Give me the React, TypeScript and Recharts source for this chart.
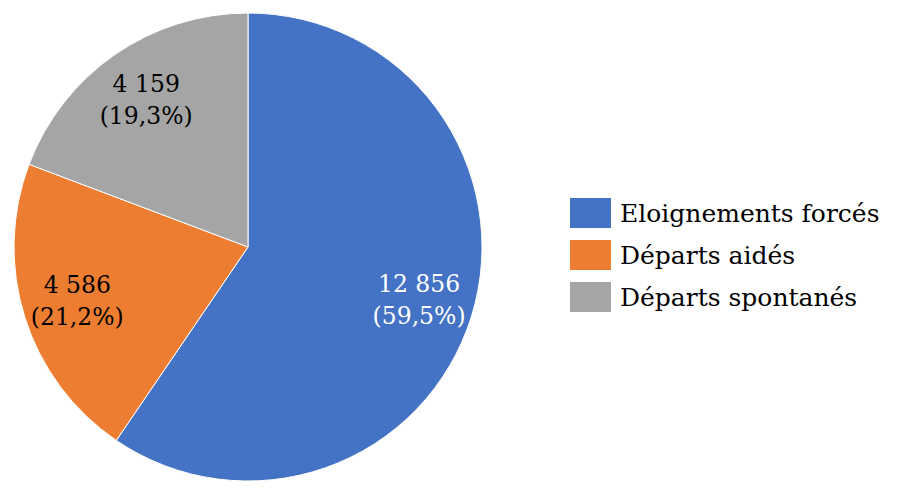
import React from "react";
import { PieChart, Pie, Cell, Legend } from "recharts";

const categories = ["Eloignements forcés", "Départs aidés", "Départs spontanés"];
const values = [12856, 4586, 4159];
const valueLabels = ["12 856", "4 586", "4 159"];
const percentLabels = ["(59,5%)", "(21,2%)", "(19,3%)"];
const colors = ["#4472C4", "#ED7D31", "#A5A5A5"];
const labelColors = ["#FFFFFF", "#000000", "#000000"];

const data = categories.map((name, i) => ({
  name,
  value: values[i],
  valueLabel: valueLabels[i],
  percentLabel: percentLabels[i],
}));

const FONT = "'DejaVu Serif', serif";
const RAD = Math.PI / 180;

const renderLabel = (props: any) => {
  const { cx, cy, midAngle, outerRadius, index } = props;
  const r = outerRadius * 0.765;
  const x = cx + r * Math.cos(-midAngle * RAD);
  const y = cy + r * Math.sin(-midAngle * RAD);
  return (
    <text
      x={x}
      y={y}
      textAnchor="middle"
      fill={labelColors[index]}
      fontFamily={FONT}
      fontSize={23.5}
    >
      <tspan x={x} dy={-8}>{data[index].valueLabel}</tspan>
      <tspan x={x} dy={32}>{data[index].percentLabel}</tspan>
    </text>
  );
};

const renderLegend = () => (
  <div style={{ fontFamily: FONT, fontSize: 25, color: "#000" }}>
    {categories.map((c, i) => (
      <div key={c} style={{ display: "flex", alignItems: "center", height: 42 }}>
        <div style={{ width: 41, height: 30, background: colors[i], marginRight: 9, flexShrink: 0 }} />
        <span style={{ whiteSpace: "nowrap" }}>{c}</span>
      </div>
    ))}
  </div>
);

export default function App() {
  return (
    <div style={{ position: "absolute", left: 0, top: 0, width: 897, height: 495, background: "#fff" }}>
      <PieChart width={897} height={495} margin={{ top: 0, right: 0, bottom: 0, left: 0 }}>
        <Pie
          data={data}
          dataKey="value"
          nameKey="name"
          cx={248}
          cy={247}
          outerRadius={234}
          startAngle={90}
          endAngle={-270}
          stroke="#FFFFFF"
          strokeWidth={1}
          label={renderLabel}
          labelLine={false}
          isAnimationActive={false}
        >
          {data.map((d, i) => (
            <Cell key={d.name} fill={colors[i]} />
          ))}
        </Pie>
        <Legend
          content={renderLegend}
          wrapperStyle={{ position: "absolute", left: 570, top: 192, width: 320 }}
        />
      </PieChart>
    </div>
  );
}
